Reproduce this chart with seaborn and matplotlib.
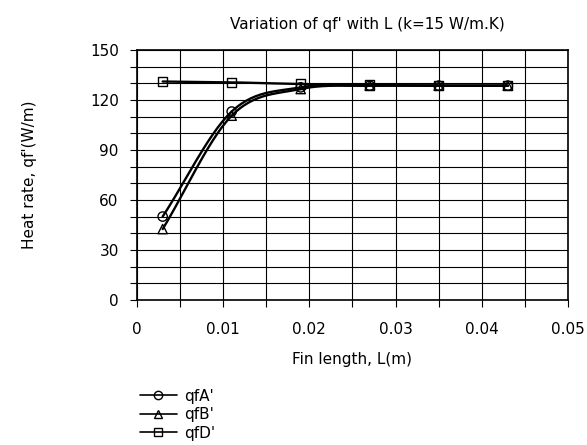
import numpy as np
import pandas as pd
import matplotlib
matplotlib.use("Agg")
import matplotlib.pyplot as plt
from matplotlib.ticker import MultipleLocator
from matplotlib.lines import Line2D
import seaborn as sns

# Data
fin_length = [0.003, 0.011, 0.019, 0.027, 0.035, 0.043]
qfA = [50, 113, 127.5, 128.5, 128.5, 128.5]
qfB = [42.5, 110.5, 126.5, 128.5, 128.5, 128.5]
qfD = [131, 130.5, 129.5, 129, 128.5, 128.5]
series_names = ["qfA'", "qfB'", "qfD'"]
x_ticks = [0, 0.01, 0.02, 0.03, 0.04, 0.05]
x_tick_labels = ["0", "0.01", "0.02", "0.03", "0.04", "0.05"]
y_ticks = [0, 30, 60, 90, 120, 150]

sns.set_theme(style="white")
plt.rcParams['font.family'] = ['DejaVu Sans']
plt.rcParams.update({"text.color": "black", "axes.labelcolor": "black",
                     "xtick.color": "black", "ytick.color": "black"})

df = pd.DataFrame({
    "L": fin_length * 3,
    "q": qfA + qfB + qfD,
    "series": [series_names[0]] * 6 + [series_names[1]] * 6 + [series_names[2]] * 6,
})


def smooth(xs, ys, n=30):
    # Catmull-Rom rendering of the smoothed line (as in the source chart)
    xs = np.asarray(xs, float); ys = np.asarray(ys, float)
    px = np.concatenate([[2 * xs[0] - xs[1]], xs, [2 * xs[-1] - xs[-2]]])
    py = np.concatenate([[2 * ys[0] - ys[1]], ys, [2 * ys[-1] - ys[-2]]])
    ox, oy = [], []
    t = np.linspace(0, 1, n)
    for i in range(1, len(px) - 2):
        for p, o in ((px, ox), (py, oy)):
            p0, p1, p2, p3 = p[i - 1], p[i], p[i + 1], p[i + 2]
            o.extend(0.5 * ((2 * p1) + (-p0 + p2) * t + (2 * p0 - 5 * p1 + 4 * p2 - p3) * t ** 2
                            + (-p0 + 3 * p1 - 3 * p2 + p3) * t ** 3))
    return np.array(ox), np.array(oy)


fig = plt.figure(figsize=(5.87, 4.45), dpi=100)
ax = fig.add_axes([0.233, 0.326, 0.735, 0.562])

markers = {"qfA'": "o", "qfB'": "^", "qfD'": "s"}
for name in series_names:
    sub = df[df.series == name]
    sx, sy = smooth(sub.L.values, sub.q.values)
    sns.lineplot(x=sx, y=sy, ax=ax, color="black", lw=1.7, sort=False, estimator=None)
    sns.scatterplot(x=sub.L, y=sub.q, ax=ax, marker=markers[name], s=45,
                    facecolor="none", edgecolor="black", linewidth=1.0, zorder=5)

ax.set_xlim(0, 0.05)
ax.set_ylim(0, 150)
ax.set_xticks(x_ticks)
ax.set_xticklabels(x_tick_labels)
ax.set_yticks(y_ticks)
ax.xaxis.set_minor_locator(MultipleLocator(0.005))
ax.yaxis.set_minor_locator(MultipleLocator(10))
ax.grid(True, which="both", color="black", lw=0.8)
ax.tick_params(axis="both", which="both", direction="out", length=5, width=0.8,
               color="black", labelcolor="black", labelsize=11, bottom=True, left=True)
ax.tick_params(axis="x", pad=11)
ax.tick_params(axis="y", pad=8)
for s in ax.spines.values():
    s.set_color("black"); s.set_linewidth(1.2)

ax.set_title("Variation of qf' with L (k=15 W/m.K)", fontsize=11, pad=15, x=0.535,
             color="black")
ax.set_xlabel("Fin length, L(m)", fontsize=11, labelpad=11, color="black")
ax.set_ylabel("Heat rate, qf'(W/m)", fontsize=11, labelpad=38, color="black")

handles = [Line2D([], [], color="black", lw=1.2, marker=markers[n], markersize=6,
                  markerfacecolor="none", markeredgecolor="black") for n in series_names]
leg = fig.legend(handles, series_names, loc="upper left", bbox_to_anchor=(0.228, 0.14),
                 frameon=False, fontsize=11, handlelength=2.4, labelspacing=0.22,
                 handletextpad=0.5, borderaxespad=0)
for t in leg.get_texts():
    t.set_color("black")

fig.savefig("out.png", dpi=100, facecolor="white")
